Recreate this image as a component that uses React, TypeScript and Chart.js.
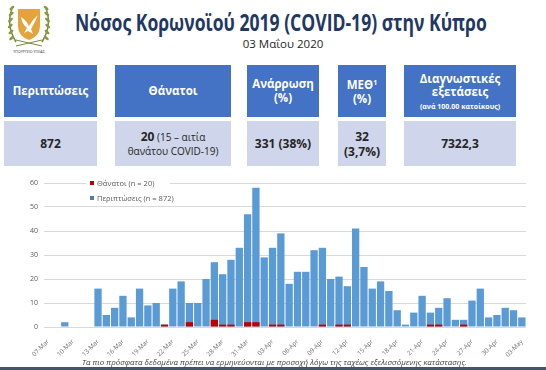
import React, { useEffect, useLayoutEffect, useRef, useState } from "react";
import { Chart, registerables } from "chart.js";

Chart.register(...registerables);

// ---------- DATA ----------
const dateLabels = [
  "07-Mar", "08-Mar", "09-Mar", "10-Mar", "11-Mar", "12-Mar", "13-Mar", "14-Mar", "15-Mar", "16-Mar",
  "17-Mar", "18-Mar", "19-Mar", "20-Mar", "21-Mar", "22-Mar", "23-Mar", "24-Mar", "25-Mar", "26-Mar",
  "27-Mar", "28-Mar", "29-Mar", "30-Mar", "31-Mar",
  "01-Apr", "02-Apr", "03-Apr", "04-Apr", "05-Apr", "06-Apr", "07-Apr", "08-Apr", "09-Apr", "10-Apr",
  "11-Apr", "12-Apr", "13-Apr", "14-Apr", "15-Apr", "16-Apr", "17-Apr", "18-Apr", "19-Apr", "20-Apr",
  "21-Apr", "22-Apr", "23-Apr", "24-Apr", "25-Apr", "26-Apr", "27-Apr", "28-Apr", "29-Apr", "30-Apr",
  "01-May", "02-May", "03-May",
];

const caseValues = [
  0, 0, 2, 0, 0, 0, 16, 5, 8, 13, 4, 16, 9, 10, 1, 16, 19, 10, 10, 20, 27, 22, 28, 33, 47,
  58, 29, 33, 39, 18, 23, 23, 32, 33, 20, 21, 17, 41, 25, 16, 19, 15, 7, 1, 6, 13, 6, 8, 12, 3, 3, 11, 16, 4, 5,
  8, 7, 4,
];

const deathValues = [
  0, 0, 0, 0, 0, 0, 0, 0, 0, 0, 0, 0, 0, 0, 1, 0, 0, 2, 0, 0, 3, 1, 1, 0, 2,
  2, 0, 1, 1, 0, 0, 0, 0, 1, 0, 1, 1, 0, 0, 0, 0, 0, 0, 0, 0, 0, 1, 1, 0, 0, 1, 0, 0, 0, 0,
  0, 0, 0,
];

const seriesNames = ["Θάνατοι (n = 20)", "Περιπτώσεις (n = 872)"];
const yMax = 60;
const yStep = 10;
const labelEvery = 3;

const titleText = "Νόσος Κορωνοϊού 2019 (COVID-19) στην Κύπρο";
const dateText = "03 Μαΐου 2020";
const footerText =
  "Τα πιο πρόσφατα δεδομένα πρέπει να ερμηνεύονται με προσοχή λόγω της ταχέως εξελισσόμενης κατάστασης.";

// ---------- STYLE ----------
const FONT = "'Open Sans', 'Noto Sans', sans-serif";
const BLUE = "#5B9BD5";
const RED = "#C00000";
const HEAD_BG = "#4472C4";
const CELL_BG = "#CFD5EA";
const TXT = "#595959";

function FitText({ text, width, style }: { text: string; width: number; style: React.CSSProperties }) {
  const ref = useRef<HTMLSpanElement>(null);
  const [k, setK] = useState(1);
  useLayoutEffect(() => {
    if (ref.current) {
      const w = ref.current.offsetWidth;
      if (w > 0) setK(width / w);
    }
  }, [text, width]);
  return (
    <span
      ref={ref}
      style={{
        ...style,
        display: "block",
        whiteSpace: "nowrap",
        width: "max-content",
        transform: `scaleX(${k})`,
        transformOrigin: "left center",
      }}
    >
      {text}
    </span>
  );
}

function Emblem() {
  return (
    <svg width={52} height={58} style={{ position: "absolute", left: 2, top: 0 }}>
      <path d="M11 6 Q3 24 14 42" stroke="#7A8B3A" strokeWidth={1.5} fill="none" />
      <path d="M43 6 Q51 24 40 42" stroke="#7A8B3A" strokeWidth={1.5} fill="none" />
      {[8, 14, 20, 26, 32, 38].map((y, i) => (
        <g key={i}>
          <ellipse cx={8 + Math.abs(24 - y) * 0.12} cy={y} rx={3} ry={1.4} fill="#8A9A3E" transform={`rotate(-40 ${8 + Math.abs(24 - y) * 0.12} ${y})`} />
          <ellipse cx={46 - Math.abs(24 - y) * 0.12} cy={y} rx={3} ry={1.4} fill="#8A9A3E" transform={`rotate(40 ${46 - Math.abs(24 - y) * 0.12} ${y})`} />
        </g>
      ))}
      <path d="M16 9 L38 9 L38 26 Q38 36 27 40 Q16 36 16 26 Z" fill="#E5A33B" />
      <path d="M19 17 Q24 20 27 26 Q31 19 36 15 Q32 24 29 29 L31 34 L26 31 L22 33 L25 28 Q20 24 19 17 Z" fill="#FFFFFF" />
      <line x1={14} y1={40} x2={40} y2={46} stroke="#7A8B3A" strokeWidth={1} />
      <line x1={40} y1={40} x2={14} y2={46} stroke="#7A8B3A" strokeWidth={1} />
      <text x={27} y={53} fontSize={3.6} textAnchor="middle" fill="#333" fontFamily={FONT}>
        ΥΠΟΥΡΓΕΙΟ ΥΓΕΙΑΣ
      </text>
    </svg>
  );
}

type CardDef = { left: number; width: number; header: React.ReactNode; value: React.ReactNode };

function Cards() {
  const hb: React.CSSProperties = { fontWeight: 700, fontSize: 11.5, color: "#fff", lineHeight: "14px" };
  const vb: React.CSSProperties = { fontWeight: 700, fontSize: 12, color: "#262626", lineHeight: "15px" };
  const cards: CardDef[] = [
    { left: 4, width: 93, header: <span style={hb}>Περιπτώσεις</span>, value: <span style={vb}>872</span> },
    {
      left: 115,
      width: 116,
      header: <span style={hb}>Θάνατοι</span>,
      value: (
        <span style={{ fontSize: 10, color: "#262626", lineHeight: "14px" }}>
          <b style={{ fontSize: 12 }}>20</b> (15 – αιτία
          <br />
          θανάτου COVID-19)
        </span>
      ),
    },
    {
      left: 247,
      width: 72,
      header: (
        <span style={hb}>
          Ανάρρωση
          <br />
          (%)
        </span>
      ),
      value: <span style={vb}>331 (38%)</span>,
    },
    {
      left: 338,
      width: 48,
      header: (
        <span style={hb}>
          ΜΕΘ<sup style={{ fontSize: 7, verticalAlign: "4px" }}>1</sup>
          <br />
          (%)
        </span>
      ),
      value: (
        <span style={vb}>
          32
          <br />
          (3,7%)
        </span>
      ),
    },
    {
      left: 404,
      width: 112,
      header: (
        <span style={{ ...hb, lineHeight: "13px" }}>
          Διαγνωστικές
          <br />
          εξετάσεις
          <br />
          <span style={{ fontSize: 7, lineHeight: "9px" }}>(ανά 100.00 κατοίκους)</span>
        </span>
      ),
      value: <span style={vb}>7322,3</span>,
    },
  ];
  return (
    <>
      {cards.map((c, i) => (
        <React.Fragment key={i}>
          <div
            style={{
              position: "absolute",
              left: c.left,
              top: 65,
              width: c.width,
              height: 52,
              background: HEAD_BG,
              display: "flex",
              alignItems: "center",
              justifyContent: "center",
              textAlign: "center",
              fontFamily: FONT,
            }}
          >
            {c.header}
          </div>
          <div
            style={{
              position: "absolute",
              left: c.left,
              top: 121,
              width: c.width,
              height: 45,
              background: CELL_BG,
              display: "flex",
              alignItems: "center",
              justifyContent: "center",
              textAlign: "center",
              fontFamily: FONT,
            }}
          >
            {c.value}
          </div>
        </React.Fragment>
      ))}
    </>
  );
}

function CovidChart() {
  const ref = useRef<HTMLCanvasElement>(null);
  useEffect(() => {
    if (!ref.current) return;
    const chart = new Chart(ref.current, {
      type: "bar",
      data: {
        labels: dateLabels,
        datasets: [
          {
            label: seriesNames[0],
            data: deathValues,
            backgroundColor: RED,
            grouped: false,
            order: 0,
            categoryPercentage: 0.88,
            barPercentage: 1,
          } as any,
          {
            label: seriesNames[1],
            data: caseValues,
            backgroundColor: BLUE,
            grouped: false,
            order: 1,
            categoryPercentage: 0.88,
            barPercentage: 1,
          } as any,
        ],
      },
      options: {
        animation: false,
        responsive: false,
        devicePixelRatio: 1,
        layout: { padding: { left: 0, right: 20, top: 13, bottom: 0 } },
        plugins: { legend: { display: false }, tooltip: { enabled: false } },
        scales: {
          x: {
            grid: { display: false },
            border: { display: false },
            ticks: {
              autoSkip: false,
              minRotation: 45,
              maxRotation: 45,
              padding: 3,
              color: "#6F6F6F",
              font: { size: 6.3, family: FONT },
              callback: (_v: any, i: number) => (i % labelEvery === 0 ? dateLabels[i] : ""),
            },
            afterFit: (s: any) => {
              s.height = 31;
            },
          },
          y: {
            min: 0,
            max: yMax,
            ticks: { stepSize: yStep, padding: 6, color: TXT, font: { size: 7, family: FONT } },
            grid: { color: "#D9D9D9", drawTicks: false },
            border: { display: false },
            afterFit: (s: any) => {
              s.width = 44;
            },
          },
        },
      } as any,
    });
    return () => chart.destroy();
  }, []);
  return (
    <canvas
      ref={ref}
      width={546}
      height={188}
      style={{ position: "absolute", left: 0, top: 170, width: 546, height: 188 }}
    />
  );
}

function Legend() {
  const row = (color: string, text: string, top: number) => (
    <div style={{ position: "absolute", left: 90, top, height: 10, display: "flex", alignItems: "center" }}>
      <div style={{ width: 4, height: 4, background: color, marginRight: 3 }} />
      <span style={{ fontSize: 7.5, color: TXT, fontFamily: FONT, whiteSpace: "nowrap" }}>{text}</span>
    </div>
  );
  return (
    <>
      <div style={{ position: "absolute", left: 86, top: 178, width: 84, height: 24, background: "#fff" }} />
      {row(RED, seriesNames[0], 178)}
      {row("#4A7EBB", seriesNames[1], 193)}
    </>
  );
}

export default function App() {
  useEffect(() => {
    document.body.style.margin = "0";
  }, []);
  return (
    <div
      style={{
        position: "absolute",
        left: 0,
        top: 0,
        width: 546,
        height: 370,
        background: "#fff",
        overflow: "hidden",
        fontFamily: FONT,
      }}
    >
      <Emblem />
      <div style={{ position: "absolute", left: 75, top: 7, height: 30, display: "flex", alignItems: "center" }}>
        <FitText text={titleText} width={412} style={{ fontSize: 23, fontWeight: 700, color: "#1F3864", lineHeight: "30px" }} />
      </div>
      <div
        style={{
          position: "absolute",
          left: 0,
          width: 546,
          top: 36,
          textAlign: "center",
          fontSize: 11.5,
          color: "#262626",
          paddingLeft: 20,
          boxSizing: "border-box",
        }}
      >
        {dateText}
      </div>
      <Cards />
      <CovidChart />
      <Legend />
      <div style={{ position: "absolute", left: 82, top: 356, height: 12, display: "flex", alignItems: "center" }}>
        <FitText text={footerText} width={385} style={{ fontSize: 8, fontStyle: "italic", color: "#404040", lineHeight: "12px" }} />
      </div>
      <div style={{ position: "absolute", left: 0, top: 367, width: 546, height: 3, background: "#44546A" }} />
    </div>
  );
}
